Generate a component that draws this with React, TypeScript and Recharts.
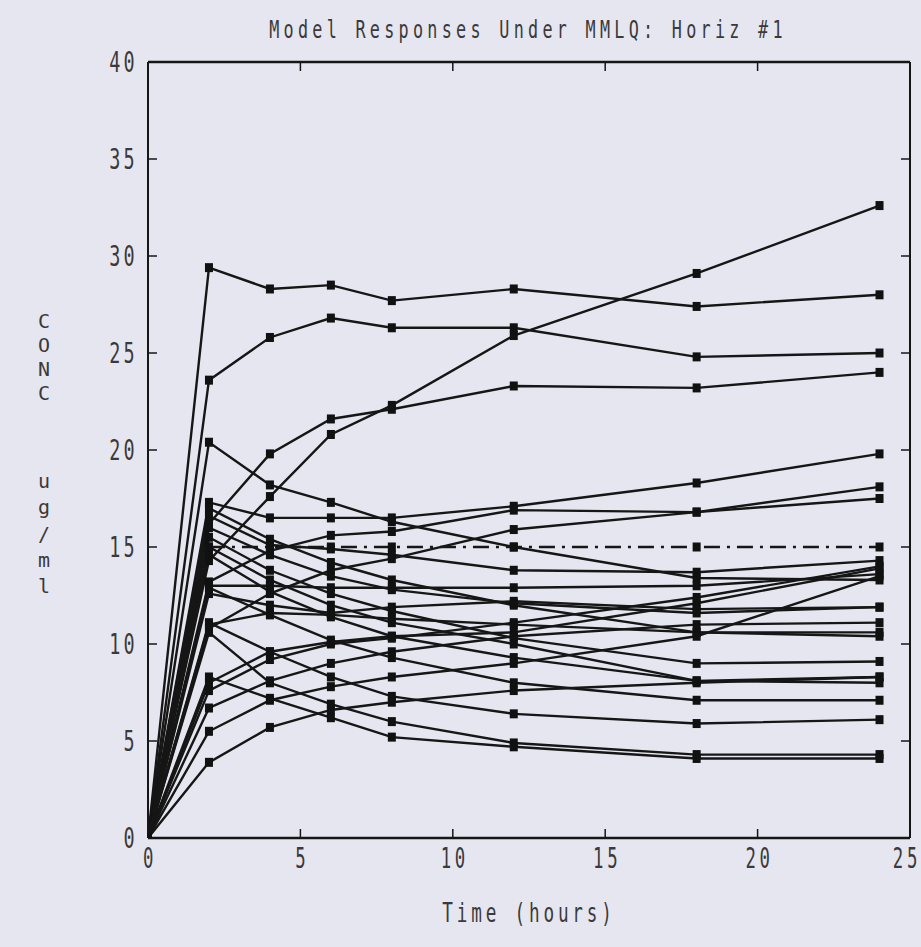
import React from "react";
import { LineChart, Line, XAxis, YAxis, ReferenceLine } from "recharts";

// Sampling times (hours)
const TIME = [0, 2, 4, 6, 8, 12, 18, 24];

// Model responses (ug/ml) at each sampling time
const S01 = [0, 29.4, 28.3, 28.5, 27.7, 28.3, 27.4, 28.0];
const S02 = [0, 23.6, 25.8, 26.8, 26.3, 26.3, 24.8, 25.0];
const S03 = [0, 14.3, 17.6, 20.8, 22.3, 25.9, 29.1, 32.6];
const S04 = [0, 16.2, 19.8, 21.6, 22.1, 23.3, 23.2, 24.0];
const S05 = [0, 20.4, 18.2, 17.3, 16.3, 15.0, 13.4, 13.3];
const S06 = [0, 17.3, 16.5, 16.5, 16.5, 17.1, 18.3, 19.8];
const S07 = [0, 13.2, 14.8, 15.6, 15.8, 16.9, 16.8, 18.1];
const S08 = [0, 10.8, 12.6, 13.8, 14.4, 15.9, 16.8, 17.5];
const S09 = [0, 17.0, 15.4, 14.2, 13.3, 12.0, 10.6, 10.4];
const S10 = [0, 16.6, 15.1, 14.9, 14.6, 13.8, 13.7, 14.3];
const S11 = [0, 16.0, 14.6, 13.5, 12.8, 12.1, 11.6, 11.9];
const S12 = [0, 15.5, 13.8, 12.6, 11.7, 10.3, 9.0, 9.1];
const S13 = [0, 15.0, 13.3, 12.0, 11.1, 10.0, 8.1, 8.0];
const S14 = [0, 14.6, 12.7, 11.4, 10.4, 9.3, 8.1, 8.3];
const S15 = [0, 13.0, 13.0, 12.9, 12.9, 12.9, 13.0, 13.6];
const S16 = [0, 12.9, 11.5, 10.2, 9.3, 8.0, 7.1, 7.1];
const S17 = [0, 11.1, 9.6, 8.3, 7.3, 6.4, 5.9, 6.1];
const S18 = [0, 10.6, 8.0, 6.9, 6.0, 4.9, 4.3, 4.3];
const S19 = [0, 8.3, 7.2, 6.2, 5.2, 4.7, 4.1, 4.1];
const S20 = [0, 11.0, 11.6, 11.5, 11.3, 11.0, 10.6, 10.6];
const S21 = [0, 8.0, 9.6, 10.1, 10.4, 10.6, 12.1, 13.9];
const S22 = [0, 7.6, 9.2, 10.0, 10.3, 11.1, 12.4, 14.0];
const S23 = [0, 6.7, 8.1, 9.0, 9.6, 10.4, 11.0, 11.1];
const S24 = [0, 5.5, 7.1, 7.8, 8.3, 9.0, 10.4, 13.5];
const S25 = [0, 3.9, 5.7, 6.6, 7.0, 7.6, 8.0, 8.3];
const S26 = [0, 12.6, 12.0, 11.6, 11.9, 12.2, 11.8, 11.9];

// Target concentration (dash-dot)
const TARGET = [null, 15, 15, 15, 15, 15, 15, 15];

const SERIES = [S01, S02, S03, S04, S05, S06, S07, S08, S09, S10, S11, S12, S13,
  S14, S15, S16, S17, S18, S19, S20, S21, S22, S23, S24, S25, S26];

const X_TICKS = [0, 5, 10, 15, 20, 25];
const Y_TICKS = [0, 5, 10, 15, 20, 25, 30, 35, 40];

const TITLE = "Model Responses Under MMLQ: Horiz #1";
const X_LABEL = "Time (hours)";
const Y_LABEL_1 = ["C", "O", "N", "C"];
const Y_LABEL_2 = ["u", "g", "/", "m", "l"];

const data = TIME.map((t, i) => {
  const row: Record<string, number | null> = { t };
  SERIES.forEach((s, j) => {
    row["s" + j] = s[i];
  });
  row.target = TARGET[i];
  return row;
});

// Layout constants
const W = 921;
const H = 947;
const PLOT_L = 148;
const PLOT_R = 910;
const PLOT_T = 62;
const PLOT_B = 838;
const PLOT_W = PLOT_R - PLOT_L;
const PLOT_H = PLOT_B - PLOT_T;
const INK = "#161616";
const TEXT = "#3a3a3a";
const BG = "#e6e6f0";
const FONT = "'DejaVu Sans Mono', 'Liberation Mono', monospace";
const TICK_LEN = 9;

function PText(props: { x: number; y: number; size: number; anchor?: string; children: string; sx?: number; ls?: number }) {
  const { x, y, size, anchor = "start", children, sx = 0.68, ls = 0 } = props;
  return (
    <text
      transform={`translate(${x},${y}) scale(${sx},1)`}
      fontFamily={FONT}
      fontSize={size}
      fill={TEXT}
      textAnchor={anchor as any}
      letterSpacing={ls}
    >
      {children}
    </text>
  );
}

function VText(props: { x: number; ys: number[]; letters: string[]; size: number }) {
  const { x, ys, letters, size } = props;
  return (
    <text fontFamily={FONT} fontSize={size} fill={TEXT} textAnchor="middle">
      {letters.map((c, i) => (
        <tspan key={i} x={x} y={ys[i]}>{c}</tspan>
      ))}
    </text>
  );
}

const XTick = (props: any) => {
  const { x, y, payload } = props;
  const v = payload.value;
  const inner = v !== 0 && v !== 25;
  return (
    <g>
      {inner && <line x1={x} x2={x} y1={y} y2={y - TICK_LEN} stroke={INK} strokeWidth={1.5} />}
      {inner && <line x1={x} x2={x} y1={y - PLOT_H} y2={y - PLOT_H + TICK_LEN} stroke={INK} strokeWidth={1.5} />}
      <PText x={v === 25 ? x - 3 : x + 2} y={y + 30} size={28} anchor="middle" sx={0.62} ls={6}>{String(v)}</PText>
    </g>
  );
};

const YTick = (props: any) => {
  const { x, y, payload } = props;
  const v = payload.value;
  const inner = v !== 0 && v !== 40;
  return (
    <g>
      {inner && <line x1={x} x2={x + TICK_LEN} y1={y} y2={y} stroke={INK} strokeWidth={1.5} />}
      {inner && <line x1={x + PLOT_W - TICK_LEN} x2={x + PLOT_W} y1={y} y2={y} stroke={INK} strokeWidth={1.5} />}
      <PText x={x - 10} y={y + 10} size={28} anchor="end" sx={0.66} ls={5}>{String(v)}</PText>
    </g>
  );
};

const renderDot = (props: any) => {
  const { cx, cy, index } = props;
  if (cx == null || cy == null || isNaN(cy)) return <g key={"e" + index} />;
  return <rect key={"d" + index} x={cx - 4} y={cy - 4.5} width={8} height={9} fill="#111" />;
};

export default function App() {
  return (
    <div style={{ position: "absolute", left: 0, top: 0, width: W, height: H, background: BG, overflow: "hidden" }}>
      <LineChart
        width={W}
        height={H}
        data={data}
        margin={{ top: PLOT_T, right: W - PLOT_R, bottom: 69, left: PLOT_L - 60 }}
      >
        <XAxis
          dataKey="t"
          type="number"
          domain={[0, 25]}
          ticks={X_TICKS}
          interval={0}
          height={40}
          tickSize={0}
          tickMargin={0}
          tickLine={false}
          tick={<XTick />}
          axisLine={{ stroke: INK, strokeWidth: 2.5 }}
          allowDataOverflow
        />
        <YAxis
          type="number"
          domain={[0, 40]}
          ticks={Y_TICKS}
          interval={0}
          width={60}
          tickSize={0}
          tickMargin={0}
          tickLine={false}
          tick={<YTick />}
          axisLine={{ stroke: INK, strokeWidth: 2 }}
          allowDataOverflow
        />
        <ReferenceLine y={40} stroke={INK} strokeWidth={2.5} ifOverflow="visible" />
        <ReferenceLine x={25} stroke={INK} strokeWidth={2} ifOverflow="visible" />
        {SERIES.map((_, j) => (
          <Line
            key={"s" + j}
            type="linear"
            dataKey={"s" + j}
            stroke={INK}
            strokeWidth={2.4}
            dot={renderDot}
            activeDot={false}
            isAnimationActive={false}
          />
        ))}
        <Line
          type="linear"
          dataKey="target"
          stroke={INK}
          strokeWidth={2.6}
          strokeDasharray="16 7 3 7"
          dot={renderDot}
          activeDot={false}
          connectNulls={false}
          isAnimationActive={false}
        />
      </LineChart>
      <svg width={W} height={H} style={{ position: "absolute", left: 0, top: 0, pointerEvents: "none" }}>
        <PText x={528} y={38} size={24} anchor="middle" sx={0.7} ls={6.1}>{TITLE}</PText>
        <PText x={529} y={922} size={26} anchor="middle" sx={0.68} ls={5.6}>{X_LABEL}</PText>
        <VText x={44} ys={[328, 352, 376, 400]} letters={Y_LABEL_1} size={20} />
        <VText x={44} ys={[488, 514, 541, 567, 593]} letters={Y_LABEL_2} size={20} />
      </svg>
    </div>
  );
}
